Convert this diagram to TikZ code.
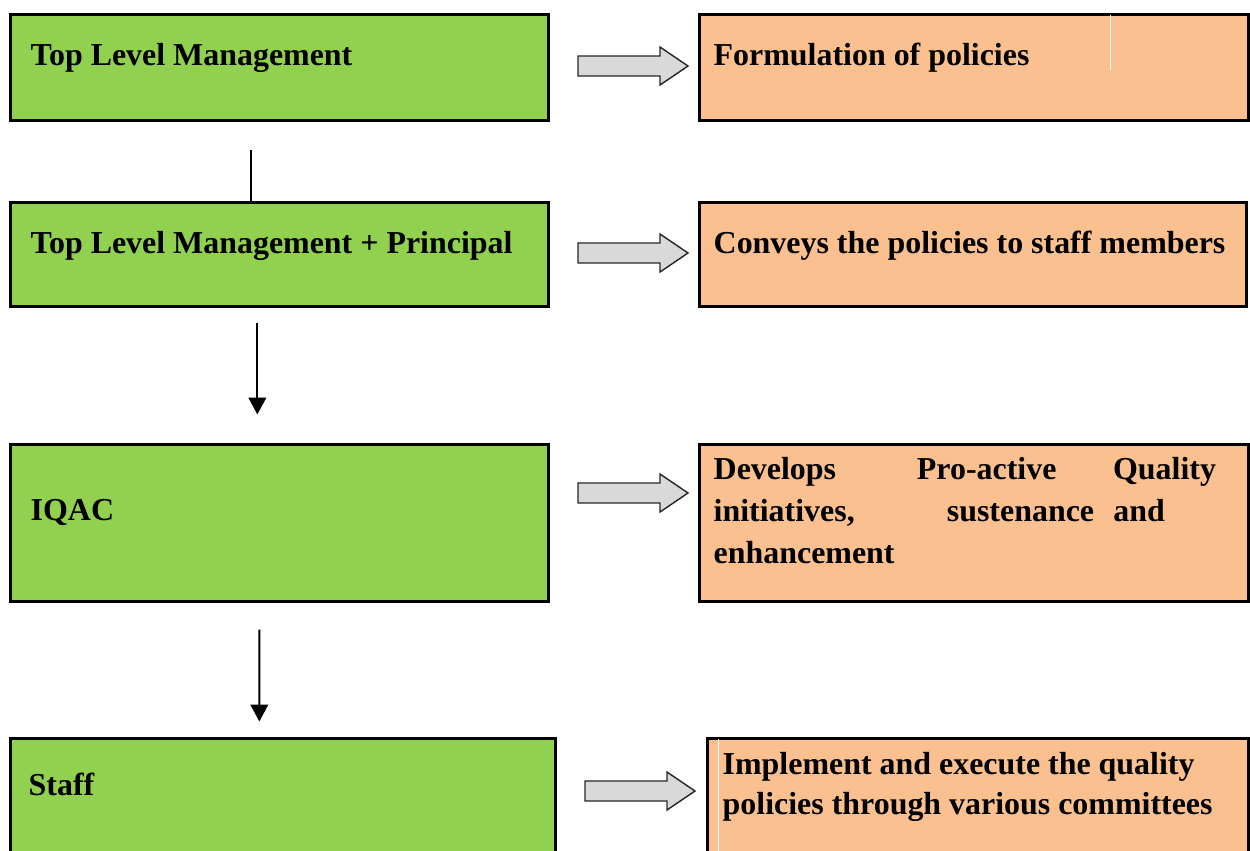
\documentclass[tikz,border=0pt]{standalone}
\usepackage{fontspec}
\setmainfont{Liberation Serif}
\usetikzlibrary{arrows.meta}

\definecolor{boxgreen}{RGB}{146,208,80}
\definecolor{boxorange}{RGB}{250,192,143}
\definecolor{arrowgray}{RGB}{217,217,217}

\tikzset{
	greenbox/.style={draw=black,fill=boxgreen,line width=0.85pt,inner sep=0pt},
	orangebox/.style={draw=black,fill=boxorange,line width=0.85pt,inner sep=0pt},
	lbl/.style={inner sep=0pt,font=\fontsize{9.08}{11.9}\selectfont\bfseries},
	link/.style={line width=0.6pt},
	flow/.style={line width=0.6pt,-{Triangle[width=5pt,length=4.8pt]}},
	pics/blockarrow/.style={code={
		\draw[fill=arrowgray,draw=black!85,line width=0.4pt]
			(0,-10) -- (82,-10) -- (82,-19) -- (110,0) -- (82,19) -- (82,10) -- (0,10) -- cycle;
	}}
}

\begin{document}
\begin{tikzpicture}[x=0.01cm,y=-0.01cm]
		\useasboundingbox (0,0) rectangle (1250,850);
		\clip (0,0) rectangle (1250,850);

		% left column
		\node[greenbox,minimum width=5.37cm,minimum height=1.05cm] (tlm) at (279.5,67.5) {};
		\node[greenbox,minimum width=5.37cm,minimum height=1.03cm] (tlmp) at (279.5,254.5) {};
		\node[greenbox,minimum width=5.37cm,minimum height=1.56cm] (iqac) at (279.5,523) {};
		\node[greenbox,minimum width=5.44cm,minimum height=1.31cm] (staff) at (283,804.5) {};

		\node[lbl,anchor=base west] (tlmtext) at (30,65) {Top Level Management};
		\node[lbl,anchor=base west] (tlmptext) at (30,253) {Top Level Management + Principal};
		\node[lbl,anchor=base west] (iqactext) at (30,520) {IQAC};
		\node[lbl,anchor=base west] (stafftext) at (28,795) {Staff};

		% right column
		\node[orangebox,minimum width=5.48cm,minimum height=1.05cm] (policy) at (974,67.5) {};
		\node[orangebox,minimum width=5.46cm,minimum height=1.03cm] (convey) at (973,254.5) {};
		\node[orangebox,minimum width=5.48cm,minimum height=1.56cm] (develop) at (974,523) {};
		\node[orangebox,minimum width=5.40cm,minimum height=1.31cm] (implement) at (978,804.5) {};

		% thin white streaks inside the orange boxes
		\draw[white,line width=0.3pt] ([shift={(412,2)}]policy.north west) -- ++(0,55);
		\draw[white,line width=0.3pt] ([shift={(12,2)}]implement.north west) -- ++(0,115);

		\node[lbl,anchor=base west] (policytext) at (713,65) {Formulation of policies};
		\node[lbl,anchor=base west] (conveytext) at (713,253) {Conveys the policies to staff members};
		\node[lbl,anchor=north west,align=left] (developtext) at (713,457)
			{\makebox[5.02cm][s]{Develops\hspace*{23pt}Pro-active\hfill Quality}\\
			 \makebox[4.51cm][s]{initiatives,\hfill sustenance\hspace*{5.5pt}and}\\
			 enhancement};
		\node[lbl,anchor=north west,align=left,font=\fontsize{9.08}{11.4}\selectfont\bfseries] (implementtext) at (722,752)
			{Implement and execute the quality\\policies through various committees};

		% block arrows
		\pic (ba1) at (578,66) {blockarrow};
		\pic (ba2) at (578,253) {blockarrow};
		\pic (ba3) at (578,493) {blockarrow};
		\pic (ba4) at (585,791) {blockarrow};

		% vertical connectors
		\draw[link] ([shift={(242,28)}]tlm.south west) -- ([shift={(242,0)}]tlmp.north west);
		\draw[flow] ([shift={(248,15)}]tlmp.south west) -- ([shift={(248,-29)}]iqac.north west);
		\draw[flow] ([shift={(250,27)}]iqac.south west) -- ([shift={(250,-16)}]staff.north west);
	\end{tikzpicture}
\end{document}
